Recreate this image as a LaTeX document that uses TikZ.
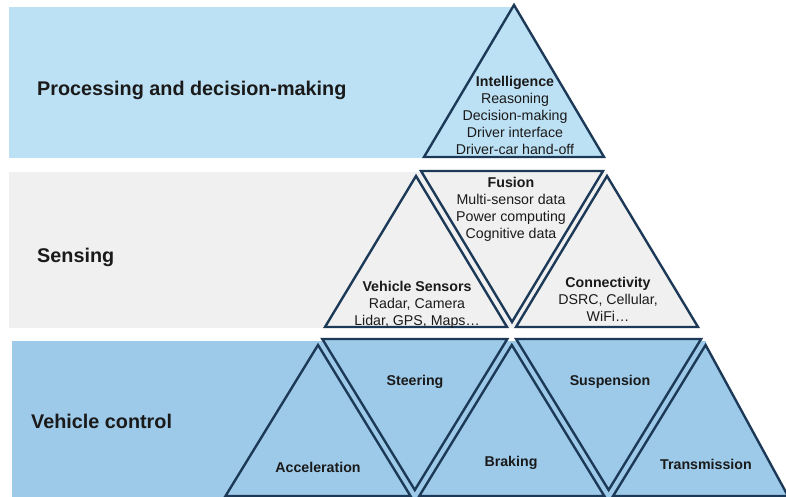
\documentclass[tikz,border=0pt]{standalone}
\usepackage{fontspec}
\setmainfont{Liberation Sans}
\definecolor{topblue}{HTML}{BDE1F4}
\definecolor{midgrey}{HTML}{F0F0F0}
\definecolor{lowblue}{HTML}{9DCAE9}
\definecolor{navy}{HTML}{1C3A57}
\definecolor{ink}{HTML}{1A1A1A}
\begin{document}
\begin{tikzpicture}[x=1pt,y=-1pt,
  edge/.style={draw=navy, line width=2.4pt, line join=miter},
  lvl/.style={font=\bfseries\fontsize{19.8}{23}\selectfont, text=ink, inner sep=0pt, anchor=west},
  body/.style={font=\fontsize{14.2}{17}\selectfont, text=ink, align=center, inner sep=0pt},
  hd/.style={font=\bfseries\fontsize{14.2}{17}\selectfont, text=ink, inner sep=0pt}]

% canvas
\fill[white] (0,0) rectangle (786,497);
\path[use as bounding box] (0,0) rectangle (786,497);

% --- layer bands ---
\fill[topblue] (9,7) rectangle (514,158);
\fill[midgrey] (9,172) rectangle (607,328);
\fill[lowblue] (12,341) rectangle (706,497);

% --- processing layer ---
\draw[edge, fill=topblue] (514,5) -- (424,157) -- (604,157) -- cycle;

% --- sensing layer ---
\draw[edge, fill=midgrey] (416,176) -- (325,327) -- (507,327) -- cycle;
\draw[edge, fill=midgrey] (421,171) -- (603,171) -- (512,322) -- cycle;
\draw[edge, fill=midgrey] (607,176) -- (516,327) -- (698,327) -- cycle;

% --- vehicle control layer ---
\draw[edge, fill=lowblue] (318,345) -- (225.5,496) -- (410.5,496) -- cycle;
\draw[edge, fill=lowblue] (322.3,339) -- (507.3,339) -- (414.8,490) -- cycle;
\draw[edge, fill=lowblue] (511.8,345) -- (419.3,496) -- (604.3,496) -- cycle;
\draw[edge, fill=lowblue] (516.1,339) -- (701.1,339) -- (608.6,490) -- cycle;
\draw[edge, fill=lowblue] (705.6,345) -- (613.1,496) -- (788,496) -- cycle;

% --- layer labels ---
\node[lvl] (proc) at (37,90) {Processing and decision-making};
\node[lvl] (sens) at (37,257) {Sensing};
\node[lvl] (ctrl) at (31,421) {Vehicle control};

% --- triangle texts ---
\node[body] (intel) at (515,115.5) {\textbf{Intelligence}\\Reasoning\\Decision-making\\Driver interface\\Driver-car hand-off};
\node[body] (fusion) at (511,209) {\textbf{Fusion}\\Multi-sensor data\\Power computing\\Cognitive data};
\node[body] (vsens) at (417,305) {\textbf{Vehicle Sensors}\\Radar, Camera\\Lidar, GPS, Maps\ldots};
\node[body] (conn) at (608,299.5) {\textbf{Connectivity}\\DSRC, Cellular,\\WiFi\ldots};

\node[hd] (accel) at (318,467) {Acceleration};
\node[hd] (steer) at (415,382) {Steering};
\node[hd] (brake) at (511,463) {Braking};
\node[hd] (susp) at (610,382) {Suspension};
\node[hd] (trans) at (706,464) {Transmission};
\end{tikzpicture}
\end{document}
